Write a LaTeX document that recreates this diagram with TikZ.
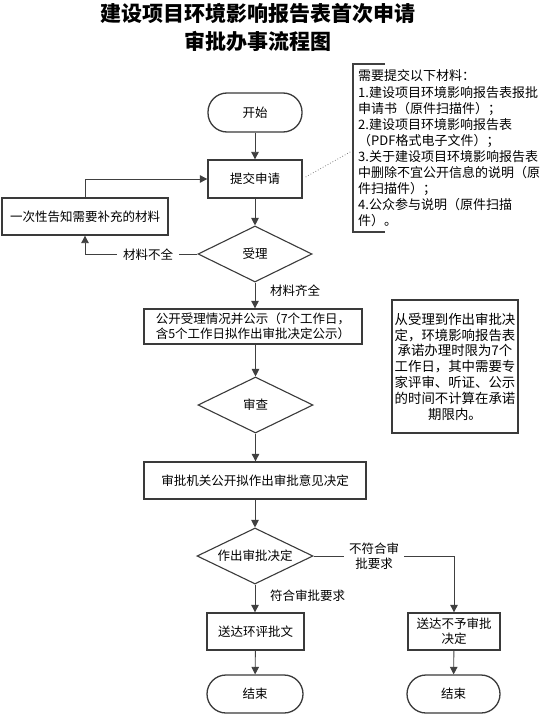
\documentclass[tikz,border=0pt]{standalone}
\usepackage{fontspec}
\setmainfont{Noto Sans CJK SC}
\usetikzlibrary{arrows.meta,shapes.geometric}
\definecolor{ln}{HTML}{404040}
\definecolor{bd}{HTML}{3A3A3A}
\tikzset{
  txt/.style={font=\fontsize{12.5}{15}\selectfont, align=center, inner sep=0pt},
  procbox/.style={txt, draw=bd, line width=1.3pt, fill=white},
  termbox/.style={procbox, rounded corners=19pt},
  decbox/.style={txt, draw=bd, line width=1.1pt, shape=diamond, aspect=2, fill=white},
  conn/.style={draw=ln, line width=0.9pt, -{Triangle[width=7.5pt,length=7.5pt]}},
  plain/.style={draw=ln, line width=0.9pt},
  lbl/.style={txt, fill=white, inner xsep=6pt, inner ysep=2pt},
}
\begin{document}
\begin{tikzpicture}[x=1pt,y=-1pt]
\useasboundingbox (0,0) rectangle (553,714);

% title
\node[font=\fontsize{21}{28}\selectfont\bfseries, align=center, inner sep=0pt] (title) at (257.5,28)
  {建设项目环境影响报告表首次申请\\审批办事流程图};

% main nodes
\node[termbox, minimum width=94pt, minimum height=39pt] (start) at (255,112.5) {开始};
\node[procbox, minimum width=94pt, minimum height=38pt] (submit) at (255,179) {提交申请};
\node[procbox, minimum width=166pt, minimum height=37pt] (notify) at (85,216.5) {一次性告知需要补充的材料};
\node[decbox, minimum width=114pt, minimum height=56pt] (accept) at (255,254) {受理};
\node[procbox, minimum width=218pt, minimum height=35pt] (public) at (253,326.5)
  {公开受理情况并公示（7个工作日，\\含5个工作日拟作出审批决定公示）};
\node[decbox, minimum width=115pt, minimum height=56pt] (review) at (255.5,405) {审查};
\node[procbox, minimum width=222pt, minimum height=37pt] (decide) at (255,480.5) {审批机关公开拟作出审批意见决定};
\node[decbox, minimum width=116pt, minimum height=56pt] (make) at (255,556) {作出审批决定};
\node[procbox, minimum width=97pt, minimum height=37pt] (send) at (255.5,631.5) {送达环评批文};
\node[procbox, minimum width=92pt, minimum height=37pt] (deny) at (454,631.5) {送达不予审批\\决定};
\node[termbox, minimum width=96pt, minimum height=38pt] (endA) at (255,694) {结束};
\node[termbox, minimum width=93pt, minimum height=38pt] (endB) at (453.5,694) {结束};

% note box (right)
\node[procbox, line width=1.1pt, minimum width=126pt, minimum height=133pt,
      font=\fontsize{13.4}{15.8}\selectfont] (note2) at (455,366.5)
  {从受理到作出审批决\\定，环境影响报告表\\承诺办理时限为7个\\工作日，其中需要专\\家评审、听证、公示\\的时间不计算在承诺\\期限内。};

% bracket annotation
\coordinate (brT) at (353,64);
\coordinate (brB) at (353,232);
\coordinate (brP) at (352,151);
\draw[draw=ln, line width=1.3pt] (385,64) -- (brT) -- (brB) -- (385,232);
\node[anchor=west, align=left, inner sep=0pt, font=\fontsize{13}{16.1}\selectfont] (note1) at (358,148.5)
  {需要提交以下材料：\\1.建设项目环境影响报告表报批\\申请书（原件扫描件）；\\2.建设项目环境影响报告表\\（PDF格式电子文件）；\\3.关于建设项目环境影响报告表\\中删除不宜公开信息的说明（原\\件扫描件）；\\4.公众参与说明（原件扫描\\件）。};
\draw[draw=gray, line width=0.8pt, dotted] (submit.east) ++(3,-2) -- (brP);

% connectors
\draw[conn] (start) -- (submit);
\draw[conn] (submit) -- (accept);
\draw[conn] (accept.west) -- (notify.south |- accept.west) -- (notify.south);
\node[lbl] (l1) at (148,255) {材料不全};
\draw[conn] (notify.north) -- (notify.north |- submit.west) -- (submit.west);
\draw[conn] (accept.south) -- (accept.south |- public.north);
\node[txt, anchor=west] (l2) at (270,291) {材料齐全};
\draw[conn] (public.south -| review.north) -- (review.north);
\draw[conn] (review.south) -- (review.south |- decide.north);
\draw[conn] (decide.south -| make.north) -- (make.north);
\draw[conn] (make.south) -- (make.south |- send.north);
\node[txt, anchor=west] (l3) at (270,596) {符合审批要求};
\draw[conn] (make.east) -- (deny.north |- make.east) -- (deny.north);
\node[lbl, inner xsep=5pt] (l4) at (374,556) {不符合审\\批要求};
\draw[conn] (send) -- (endA);
\draw[conn] (deny) -- (endB);
\end{tikzpicture}
\end{document}
